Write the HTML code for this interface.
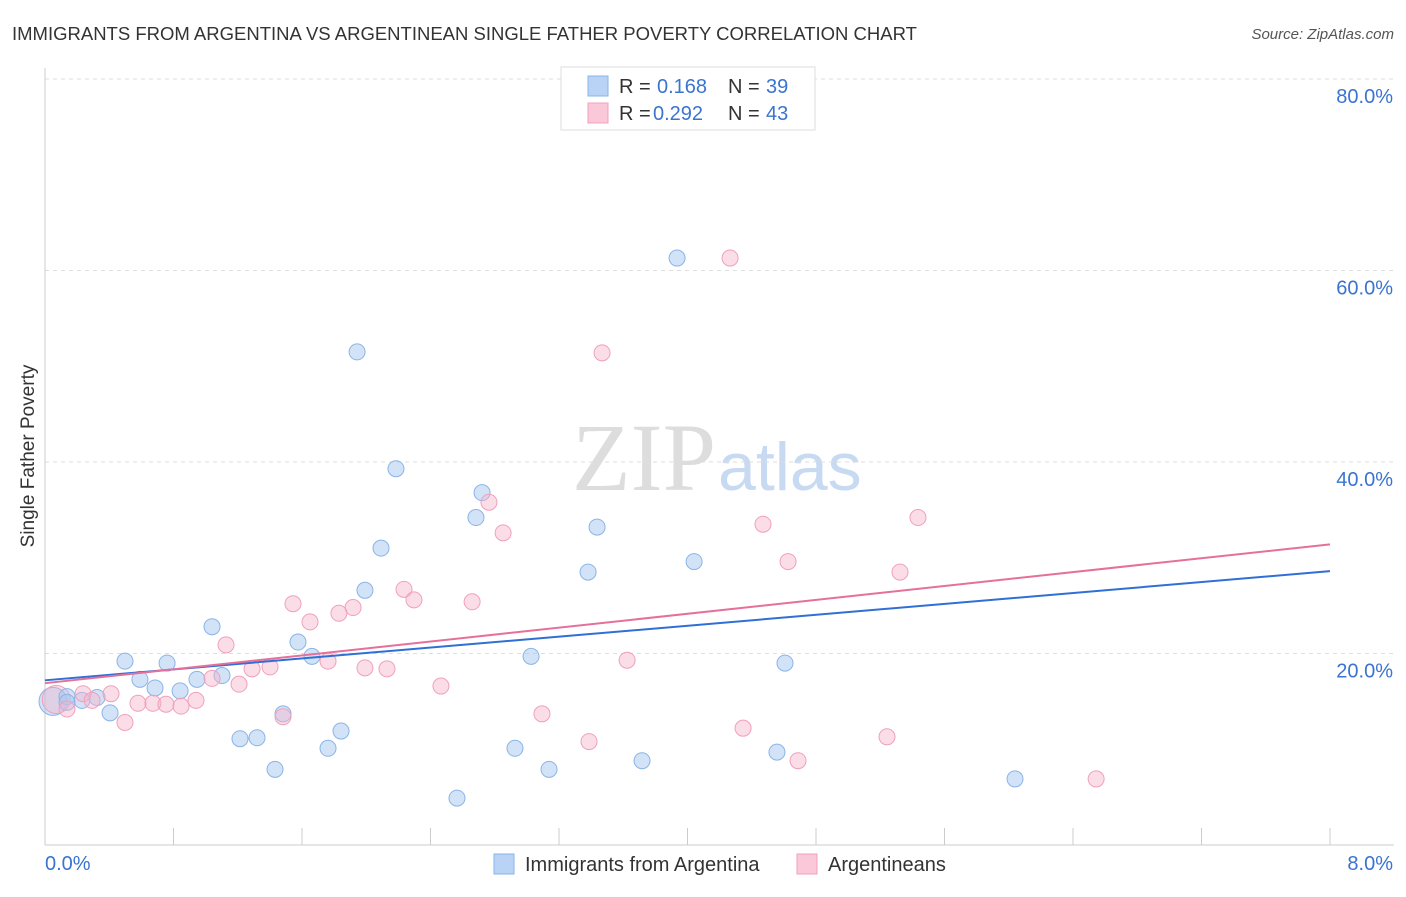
<!DOCTYPE html>
<html><head><meta charset="utf-8"><style>
body{margin:0;background:#fff;font-family:"Liberation Sans",sans-serif;}
svg text{font-family:"Liberation Sans",sans-serif;}
</style></head><body>
<svg id="chart" width="1406" height="892" xmlns="http://www.w3.org/2000/svg">
<text x="12" y="40" font-size="18.5" fill="#333">IMMIGRANTS FROM ARGENTINA VS ARGENTINEAN SINGLE FATHER POVERTY CORRELATION CHART</text>
<text x="1394" y="39" font-size="15" fill="#555" font-style="italic" text-anchor="end">Source: ZipAtlas.com</text>
<text x="716" y="490" font-size="96" fill="#ddd" text-anchor="end" style="font-family:'Liberation Serif',serif">ZIP</text>
<text x="718" y="490" font-size="68" fill="#c8daf2">atlas</text>
<text x="34" y="456" font-size="19" fill="#333" text-anchor="middle" transform="rotate(-90 34 456)">Single Father Poverty</text>
<g id="grid"></g><g id="axes"></g><g id="pts"></g><g id="trends"></g>
<g>
<rect x="561" y="67" width="254" height="63" fill="#fff" stroke="#ddd"/>
<rect x="588" y="76" width="20" height="20" fill="#b8d3f5" stroke="#8ab4e8"/>
<rect x="588" y="103" width="20" height="20" fill="#fac8d8" stroke="#f0a0bc"/>
<text x="619" y="93" font-size="20" fill="#333">R = </text><text x="657" y="93" font-size="20" fill="#3a74d0">0.168</text>
<text x="728" y="93" font-size="20" fill="#333">N = </text><text x="766" y="93" font-size="20" fill="#3a74d0">39</text>
<text x="619" y="120" font-size="20" fill="#333">R = </text><text x="653" y="120" font-size="20" fill="#3a74d0">0.292</text>
<text x="728" y="120" font-size="20" fill="#333">N = </text><text x="766" y="120" font-size="20" fill="#3a74d0">43</text>
</g>
<g>
<rect x="494" y="854" width="20" height="20" fill="#b8d3f5" stroke="#8ab4e8"/>
<text x="525" y="871" font-size="20" fill="#333">Immigrants from Argentina</text>
<rect x="797" y="854" width="20" height="20" fill="#fac8d8" stroke="#f0a0bc"/>
<text x="828" y="871" font-size="20" fill="#333">Argentineans</text>
</g>
</svg>
<script>
const blueX=[3.935,1.943,2.185,2.721,2.683,3.437,2.092,4.041,3.381,1.992,1.040,1.575,1.662,3.026,0.498,0.760,4.607,0.591,1.102,0.946,0.685,0.841,0.137,0.324,0.230,0.137,0.405,1.482,1.843,1.214,1.320,1.762,2.926,4.557,3.717,1.432,3.138,6.039,2.565];
const blueY=[61.3,51.5,39.3,36.8,34.2,33.2,31.0,29.6,28.5,26.6,22.8,21.2,19.7,19.7,19.2,19.0,19.0,17.3,17.7,17.3,16.4,16.1,15.5,15.4,15.1,14.9,13.8,13.7,11.9,11.1,11.2,10.1,10.1,9.7,8.8,7.9,7.9,6.9,4.9];
const pinkX=[4.265,3.468,2.764,2.852,4.470,5.435,4.626,5.323,2.235,2.297,1.544,1.918,2.659,1.830,1.650,1.127,1.762,3.624,1.992,2.129,1.401,1.289,1.208,2.465,1.040,0.411,0.237,0.940,0.579,0.672,0.753,0.847,0.293,0.137,0.498,1.482,3.094,4.346,5.242,3.387,4.688,6.544];
const pinkY=[61.3,51.4,35.8,32.6,33.5,34.2,29.6,28.5,26.7,25.6,25.2,24.8,25.4,24.2,23.3,20.9,19.2,19.3,18.5,18.4,18.6,18.4,16.8,16.6,17.4,15.8,15.8,15.1,14.8,14.8,14.7,14.5,15.1,14.2,12.8,13.4,13.7,12.2,11.3,10.8,8.8,6.9];
const yTicks=[20,40,60,80];
const xTickLabels=["0.0%","8.0%"];
const blueTrend=[17.2,28.6];
const pinkTrend=[16.9,31.4];
const X=v=>45+v/8*1285, Y=v=>845-v/20*191.5;
const NS="http://www.w3.org/2000/svg";
function mk(p,t,a){const e=document.createElementNS(NS,t);for(const k in a)e.setAttribute(k,a[k]);document.getElementById(p).appendChild(e);return e;}
yTicks.forEach(t=>{
 const l=mk('grid','line',{x1:45,x2:1394,y1:Y(t),y2:Y(t),stroke:'#ddd','stroke-dasharray':'4,4'});
 
 
 const tx=mk('grid','text',{x:1393,y:Y(t)+24,'font-size':20,fill:'#3a74d0','text-anchor':'end'});tx.textContent=t.toFixed(1)+'%';
 
 
});
const ax=mk('axes','line',{x1:45,x2:1394,y1:845,y2:845,stroke:'#ccc'});


const ay=mk('axes','line',{x1:45,x2:45,y1:68,y2:845,stroke:'#ccc'});


for(let i=1;i<=10;i++){const t=mk('axes','line',{x1:X(i*0.8),x2:X(i*0.8),y1:828,y2:845,stroke:'#ccc'});
 
 }
const l0=mk('axes','text',{x:45,y:870,'font-size':20,fill:'#3a74d0'});l0.textContent=xTickLabels[0];


const l1=mk('axes','text',{x:1393,y:870,'font-size':20,fill:'#3a74d0','text-anchor':'end'});l1.textContent=xTickLabels[1];


const bb=mk('pts','circle',{cx:X(0.05),cy:Y(15),r:14,fill:'rgba(168,200,240,0.5)',stroke:'#8ab4e8'});


const pb=mk('pts','circle',{cx:X(0.07),cy:Y(15.2),r:14,fill:'rgba(246,180,204,0.4)',stroke:'#f0a0bc'});


blueX.forEach((x,i)=>{const c=mk('pts','circle',{cx:X(x),cy:Y(blueY[i]),r:8,fill:'rgba(168,200,240,0.5)',stroke:'#8ab4e8'});
 
 });
pinkX.forEach((x,i)=>{const c=mk('pts','circle',{cx:X(x),cy:Y(pinkY[i]),r:8,fill:'rgba(246,180,204,0.45)',stroke:'#f0a0bc'});
 
 });
const bt=mk('trends','line',{x1:X(0),x2:X(8),y1:Y(blueTrend[0]),y2:Y(blueTrend[1]),stroke:'#2f6fd6','stroke-width':2});


const pt=mk('trends','line',{x1:X(0),x2:X(8),y1:Y(pinkTrend[0]),y2:Y(pinkTrend[1]),stroke:'#e5709a','stroke-width':2});


</script>
</body></html>
